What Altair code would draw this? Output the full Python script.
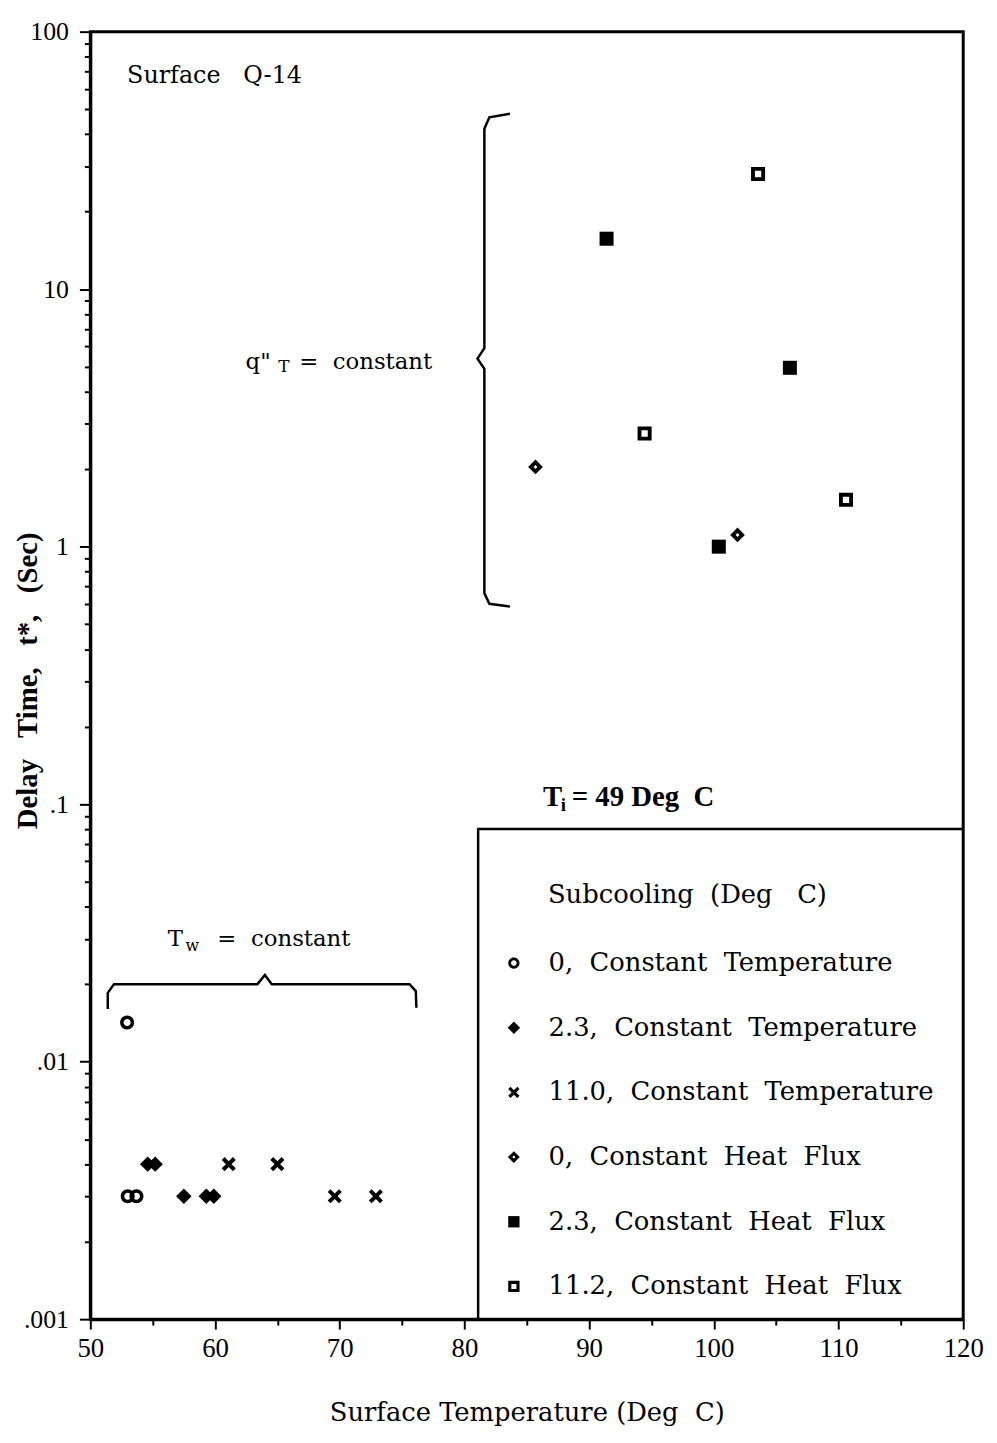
import altair as alt
import pandas as pd

# ---------------- series ----------------
series_names = [
    "0,\u00a0 Constant\u00a0 Temperature",
    "2.3,\u00a0 Constant\u00a0 Temperature",
    "11.0,\u00a0 Constant\u00a0 Temperature",
    "0,\u00a0 Constant\u00a0 Heat\u00a0 Flux",
    "2.3,\u00a0 Constant\u00a0 Heat\u00a0 Flux",
    "11.2,\u00a0 Constant\u00a0 Heat\u00a0 Flux",
]

ct0_x = [52.95, 53.0, 53.7]
ct0_y = [0.0142, 0.0030, 0.0030]

ct23_x = [54.6, 55.2, 57.5, 59.3, 59.9]
ct23_y = [0.0040, 0.0040, 0.0030, 0.0030, 0.0030]

ct110_x = [61.1, 65.0, 69.6, 72.9]
ct110_y = [0.0040, 0.0040, 0.0030, 0.0030]

hf0_x = [85.7, 101.9]
hf0_y = [2.04, 1.11]

hf23_x = [91.4, 106.1, 100.4]
hf23_y = [15.7, 4.95, 1.00]

hf112_x = [103.55, 94.45, 110.6]
hf112_y = [28.0, 2.75, 1.52]

# symbol shapes (custom paths in the [-1, 1] box)
shape_paths = [
    "M-1,0A1,1,0,1,1,1,0A1,1,0,1,1,-1,0Z M-0.5,0A0.5,0.5,0,1,0,0.5,0A0.5,0.5,0,1,0,-0.5,0Z",
    "M0,-1.1L1.1,0L0,1.1L-1.1,0Z",
    "M-1,-0.6L-0.6,-1L0,-0.4L0.6,-1L1,-0.6L0.4,0L1,0.6L0.6,1L0,0.4L-0.6,1L-1,0.6L-0.4,0Z",
    "M0,-1.05L1.05,0L0,1.05L-1.05,0Z M0,-0.28L-0.28,0L0,0.28L0.28,0Z",
    "M-1,-1L1,-1L1,1L-1,1Z",
    "M-1,-1L1,-1L1,1L-1,1Z M-0.45,-0.45L-0.45,0.45L0.45,0.45L0.45,-0.45Z",
]

# ---------------- axes ----------------
x_ticks = [50, 55, 60, 65, 70, 75, 80, 85, 90, 95, 100, 105, 110, 115, 120]
x_major = [50, 60, 70, 80, 90, 100, 110, 120]

y_decades = [0.001, 0.01, 0.1, 1, 10]
y_minor_mult = [1, 2, 3, 4, 5, 6, 7, 8, 9]
y_major = [0.001, 0.01, 0.1, 1, 10, 100]
y_major_labels = [".001", ".01", ".1", "1", "10", "100"]

# ---------------- annotations ----------------
brace_q_x = [83.65, 82.0, 81.6, 81.6, 81.05, 81.6, 81.6, 82.0, 83.65]
brace_q_y = [48.0, 46.5, 42.0, 5.9, 5.37, 4.9, 0.66, 0.60, 0.585]

brace_t_x = [51.4, 51.4, 51.9, 63.4, 64.0, 64.55, 75.6, 76.1, 76.15]
brace_t_y = [0.0160, 0.0185, 0.0200, 0.0200, 0.0217, 0.0200, 0.0200, 0.0188, 0.0162]

box_x = [81.1, 81.1, 120.0]
box_y = [0.001, 0.080, 0.080]

q14_xy = [52.95, 63.2]
qT_xy = [62.45, 4.90]
Tw_xy = [56.21, 0.0282]
Ti_xy = [86.3, 0.0984]
leg_title_xy = [86.7, 0.0442]

# ---------------- build tables ----------------
rows = []
for name, xs, ys in zip(series_names,
                        [ct0_x, ct23_x, ct110_x, hf0_x, hf23_x, hf112_x],
                        [ct0_y, ct23_y, ct110_y, hf0_y, hf23_y, hf112_y]):
    for xv, yv in zip(xs, ys):
        rows.append({"series": name, "x": xv, "y": yv})
pts = pd.DataFrame(rows)

lines = []
for g, xs, ys in [("q", brace_q_x, brace_q_y), ("t", brace_t_x, brace_t_y), ("box", box_x, box_y)]:
    for i, (xv, yv) in enumerate(zip(xs, ys)):
        lines.append({"g": g, "o": i, "x": xv, "y": yv})
lines = pd.DataFrame(lines)

y_ticks = [round(d * m, 6) for d in y_decades for m in y_minor_mult] + [100]

y_label_expr = "".join(
    f"abs(datum.value - {v}) < {v / 100} ? '{l}' : " for v, l in zip(y_major, y_major_labels)
) + "''"
y_major_test = " || ".join(f"abs(datum.value - {v}) < {v / 100}" for v in y_major)
x_major_test = " || ".join(f"datum.value == {v}" for v in x_major)

xscale = alt.Scale(domain=[50, 120], nice=False, zero=False)
yscale = alt.Scale(type="log", domain=[0.001, 100], nice=False)

xaxis = alt.Axis(
    values=x_ticks,
    labelExpr=f"({x_major_test}) ? datum.label : ''",
    tickSize={"condition": {"test": x_major_test, "value": 10}, "value": 6},
    tickColor="black", tickWidth=2,
    domainColor="black", domainWidth=3,
    labelFont="Liberation Serif", labelFontSize=27, labelColor="black",
    labelPadding=7, labelFlush=False, labelOverlap=False,
    grid=False,
    titleFont="DejaVu Serif", titleFontSize=26, titleFontWeight="normal", titleColor="black",
    titleY=94, titleBaseline="middle",
)
yaxis = alt.Axis(
    values=y_ticks,
    labelExpr=y_label_expr,
    tickSize={"condition": {"test": y_major_test, "value": 11}, "value": 6},
    tickColor="black", tickWidth=2,
    domainColor="black", domainWidth=3,
    labelFont="Liberation Serif", labelFontSize=26, labelColor="black",
    labelPadding=11, labelFlush=False, labelOverlap=False,
    grid=False,
    titleFont="Liberation Serif", titleFontSize=29, titleFontWeight="bold", titleColor="black",
    titleX=-63, titleY=654, titleBaseline="middle", titleAngle=270,
)

XT = "Surface Temperature (Deg\u00a0 C)"
YT = "Delay\u00a0\u00a0 Time,\u00a0\u00a0 t*,\u00a0\u00a0 (Sec)"


def xenc():
    return alt.X("x:Q", scale=xscale, axis=xaxis, title=XT)


def yenc():
    return alt.Y("y:Q", scale=yscale, axis=yaxis, title=YT)


points = alt.Chart(pts).mark_point(filled=True, color="black", size=200, opacity=1).encode(
    x=xenc(),
    y=yenc(),
    shape=alt.Shape(
        "series:N",
        scale=alt.Scale(domain=series_names, range=shape_paths),
        legend=alt.Legend(
            orient="none", legendX=414, legendY=926, title=None,
            labelFont="DejaVu Serif", labelFontSize=26, labelColor="black", labelLimit=700,
            rowPadding=39.2, labelOffset=22, symbolSize=130, padding=0,
            symbolFillColor="black", symbolStrokeColor="black", symbolStrokeWidth=0,
        ),
    ),
)

line_layer = alt.Chart(lines).mark_line(color="black", strokeWidth=2.5, interpolate="linear").encode(
    x=xenc(), y=yenc(), detail="g:N", order="o:Q"
)


def text_layer(xy, text, font, size, weight="normal", dx=0, dy=0, baseline="alphabetic"):
    df = pd.DataFrame({"x": [xy[0]], "y": [xy[1]], "t": [text]})
    return alt.Chart(df).mark_text(
        font=font, fontSize=size, fontWeight=weight, align="left", baseline=baseline,
        dx=dx, dy=dy, color="black",
    ).encode(x=xenc(), y=yenc(), text="t:N")


texts = [
    text_layer(q14_xy, "Surface\u00a0\u00a0 Q-14", "DejaVu Serif", 24),
    text_layer(qT_xy, "q\"", "DejaVu Serif", 23),
    text_layer(qT_xy, "T", "DejaVu Serif", 17, dx=33, dy=3),
    text_layer(qT_xy, "=\u00a0 constant", "DejaVu Serif", 23, dx=54),
    text_layer(Tw_xy, "T", "DejaVu Serif", 23),
    text_layer(Tw_xy, "w", "DejaVu Serif", 16, dx=18, dy=5),
    text_layer(Tw_xy, "=\u00a0 constant", "DejaVu Serif", 23, dx=50),
    text_layer(Ti_xy, "T", "Liberation Serif", 29, weight="bold"),
    text_layer(Ti_xy, "i", "Liberation Serif", 19, weight="bold", dx=18, dy=5),
    text_layer(Ti_xy, "= 49 Deg\u00a0 C", "Liberation Serif", 29, weight="bold", dx=29),
    text_layer(leg_title_xy, "Subcooling\u00a0 (Deg\u00a0\u00a0 C)", "DejaVu Serif", 26, baseline="middle"),
]

chart = alt.layer(line_layer, points, *texts).properties(
    width=880,
    height=1298,
    padding={"left": 83, "top": 18, "right": 26, "bottom": 119},
    autosize=alt.AutoSizeParams(type="none"),
    background="white",
).configure_view(stroke="black", strokeWidth=3)

chart.save("out.html", embed_options={"renderer": "svg", "actions": False})
